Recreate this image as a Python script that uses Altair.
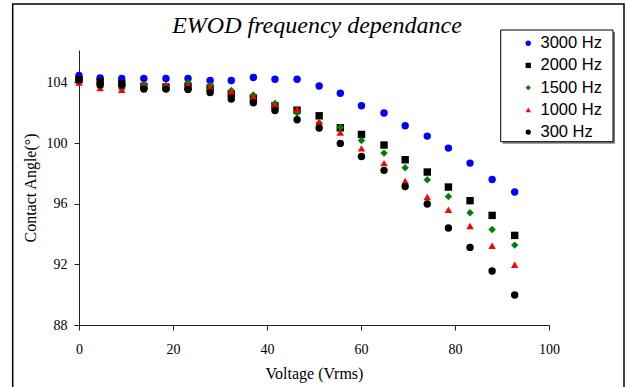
import altair as alt
import pandas as pd

voltage = [0, 4.5, 9.1, 13.8, 18.5, 23.2, 27.9, 32.4, 37.1, 41.7, 46.4,
           51.1, 55.6, 60.1, 64.9, 69.4, 74.1, 78.6, 83.2, 87.9, 92.7]

angle_3000 = [104.46, 104.29, 104.26, 104.26, 104.26, 104.26, 104.13, 104.13, 104.33, 104.21, 104.21,
              103.77, 103.29, 102.46, 101.98, 101.14, 100.46, 99.67, 98.68, 97.60, 96.77]
angle_2000 = [104.18, 104.05, 103.91, 103.74, 103.70, 103.74, 103.63, 103.25, 102.97, 102.46, 102.17,
              101.80, 101.01, 100.57, 99.87, 98.90, 98.09, 97.10, 96.20, 95.23, 93.91]
angle_1500 = [104.18, 103.70, 103.58, 103.85, 103.78, 103.98, 103.80, 103.47, 103.17, 102.61, 101.98,
              101.32, 101.03, 100.17, 99.34, 98.37, 97.58, 96.48, 95.40, 94.30, 93.27]
angle_1000 = [104.00, 103.63, 103.52, 103.85, 103.85, 103.85, 103.70, 103.41, 103.06, 102.55, 102.25,
              101.41, 100.70, 99.65, 98.68, 97.50, 96.44, 95.60, 94.53, 93.23, 91.97]
angle_300 = [104.18, 103.85, 103.85, 103.56, 103.56, 103.54, 103.34, 102.91, 102.66, 102.15, 101.54,
             100.99, 99.98, 99.12, 98.20, 97.14, 95.98, 94.40, 93.12, 91.56, 89.98]

series_names = ["3000 Hz", "2000 Hz", "1500 Hz", "1000 Hz", "300 Hz"]
series_values = [angle_3000, angle_2000, angle_1500, angle_1000, angle_300]
colors = ["#0000FF", "#000000", "#008000", "#FF0000", "#000000"]
shapes = ["circle", "square", "diamond", "triangle-up", "circle"]

x_ticks = [0, 20, 40, 60, 80, 100]
y_ticks = [88, 92, 96, 100, 104]
title_text = "EWOD frequency dependance"

rows = []
k = 0
for name, vals in zip(series_names, series_values):
    for v, a in zip(voltage, vals):
        rows.append({"series": name, "voltage": v, "angle": a, "idx": k})
        k += 1
df = pd.DataFrame(rows)

W, H = 470, 275

legend = alt.Legend(
    title=None, orient="none", legendX=441, legendY=-15,
    labelFont="Liberation Sans", labelFontSize=16.5, labelColor="#000000",
    symbolSize=28, symbolStrokeWidth=0, labelOffset=4, rowPadding=5.2,
    padding=0, strokeColor="transparent", fillColor="transparent",
)

points = alt.Chart(df).mark_point(filled=True, size=55, opacity=1).encode(
    x=alt.X("voltage:Q",
            scale=alt.Scale(domain=[0, 100], nice=False),
            axis=alt.Axis(values=x_ticks, title="Voltage (Vrms)", grid=False, labelFlush=False,
                          tickSize=5, labelPadding=12, titlePadding=9)),
    y=alt.Y("angle:Q",
            scale=alt.Scale(domain=[88, 106.14], nice=False, zero=False),
            axis=alt.Axis(values=y_ticks, title="Contact Angle(°)", grid=False, labelFlush=False,
                          tickSize=5, labelPadding=7, titlePadding=8)),
    color=alt.Color("series:N", scale=alt.Scale(domain=series_names, range=colors), legend=legend),
    shape=alt.Shape("series:N", scale=alt.Scale(domain=series_names, range=shapes), legend=legend),
    order=alt.Order("idx:Q"),
)

one = pd.DataFrame({"t": [title_text]})

frame = alt.Chart(one).mark_rect(fill="transparent", stroke="#000000", strokeWidth=1.5).encode(
    x=alt.value(-66.3), x2=alt.value(545), y=alt.value(-46), y2=alt.value(345))

title = alt.Chart(one).mark_text(font="Liberation Serif", fontSize=24, fontStyle="italic",
                                 color="#000000", align="center", baseline="alphabetic").encode(
    x=alt.value(238), y=alt.value(-17), text="t:N")

shadow = alt.Chart(one).mark_rect(fill="#808080").encode(
    x=alt.value(423.7), x2=alt.value(536), y=alt.value(-18), y2=alt.value(93.7))

legend_box = alt.Chart(one).mark_rect(fill="#FFFFFF", stroke="#000000", strokeWidth=1).encode(
    x=alt.value(421.7), x2=alt.value(534), y=alt.value(-20), y2=alt.value(91.7))

chart = alt.layer(frame, title, points, shadow, legend_box).properties(
    width=W, height=H,
    background="#FFFFFF",
    autosize=alt.AutoSizeParams(type="none"),
    padding={"left": 79, "top": 50, "right": 77, "bottom": 62},
).configure_view(strokeWidth=0).configure_axis(
    labelFont="Liberation Serif", labelFontSize=14, labelColor="#000000",
    titleFont="Liberation Serif", titleFontSize=16, titleFontWeight="normal", titleColor="#000000",
    domainColor="#222222", tickColor="#222222", domainWidth=1, tickWidth=1,
)

chart.save("out.html", embed_options={"renderer": "svg", "actions": False})
